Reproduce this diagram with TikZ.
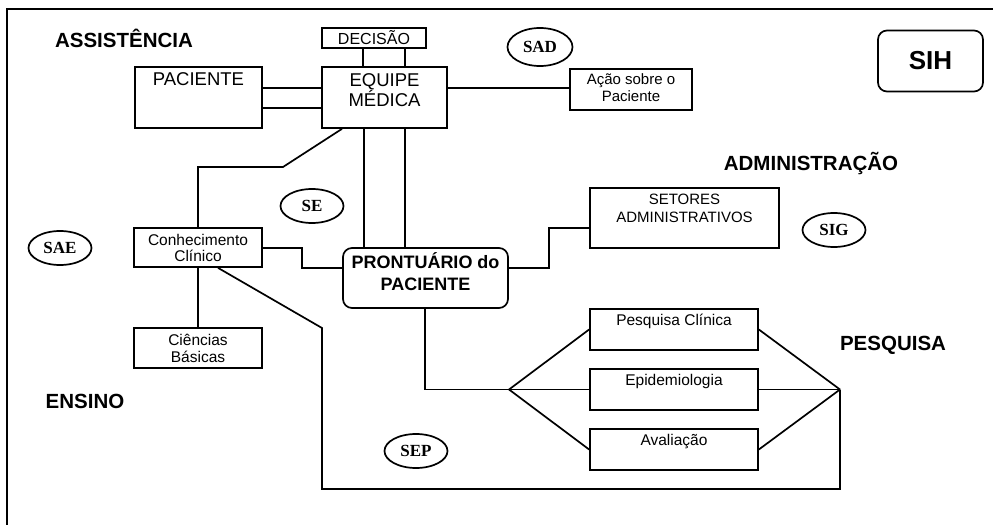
\documentclass[tikz,border=0pt]{standalone}
\usepackage{fontspec}
\setmainfont{Liberation Sans}
\newfontfamily\ellfont{Liberation Serif}
\usetikzlibrary{shapes.geometric}

\begin{document}
\begin{tikzpicture}[x=1pt, y=-1pt, line width=1.7pt,
  box/.style={draw, rectangle, inner sep=0pt},
  rbox/.style={draw, rectangle, rounded corners=9pt, inner sep=0pt},
  ell/.style={draw, ellipse, inner sep=0pt, minimum width=63pt, minimum height=34pt,
    font=\ellfont\bfseries\fontsize{17}{17}\selectfont},
  txt/.style={inner sep=0pt, anchor=base, font=\fontsize{15.5}{16}\selectfont},
  captxt/.style={inner sep=0pt, anchor=base, font=\fontsize{18.5}{20}\selectfont},
  boldtxt/.style={inner sep=0pt, anchor=base, font=\bfseries\fontsize{18}{20}\selectfont},
  area/.style={inner sep=0pt, anchor=base, font=\bfseries\fontsize{20.5}{22}\selectfont}]
\useasboundingbox (0,0) rectangle (993,525);

% outer frame (top and left edges)
\draw (993,9) -- (7,9) -- (7,525);

% area titles
\node[area] (assist) at (124,47) {ASSISTÊNCIA};
\node[area] (admin)  at (811,170) {ADMINISTRAÇÃO};
\node[area] (pesq)   at (893,350) {PESQUISA};
\node[area] (ensino) at (85,408) {ENSINO};

% subsystem ellipses
\node[ell, minimum width=65pt, minimum height=38pt] (sad) at (540,47) {SAD};
\node[ell] (se)  at (312,206) {SE};
\node[ell] (sae) at (60,248)  {SAE};
\node[ell] (sig) at (834,230) {SIG};
\node[ell] (sep) at (416,451) {SEP};

% SIH label box
\node[rbox, minimum width=105pt, minimum height=61pt] (sih) at (930.5,61) {};
\node[inner sep=0pt, anchor=base, font=\bfseries\fontsize{26}{28}\selectfont] (sih-t) at (930.5,69) {SIH};

% care boxes
\node[box, minimum width=104pt, minimum height=20pt] (dec) at (374,38) {};
\node[txt, font=\fontsize{16}{16}\selectfont] (dec-t) at (374,44) {DECISÃO};

\node[box, minimum width=127pt, minimum height=61pt] (pac) at (198.5,97.5) {};
\node[captxt] (pac-t) at (198.5,85) {PACIENTE};

\node[box, minimum width=125pt, minimum height=61pt] (eq) at (384.5,97.5) {};
\node[captxt] (eq-t1) at (384.5,86) {EQUIPE};
\node[captxt] (eq-t2) at (384.5,106) {MÉDICA};

\node[box, minimum width=122pt, minimum height=41pt] (acao) at (631,89.5) {};
\node[txt, font=\fontsize{15}{16}\selectfont] (acao-t1) at (631,84) {Ação sobre o};
\node[txt, font=\fontsize{15}{16}\selectfont] (acao-t2) at (631,101) {Paciente};

% teaching boxes
\node[box, minimum width=128pt, minimum height=39pt] (con) at (198,247.5) {};
\node[txt] (con-t1) at (198,245) {Conhecimento};
\node[txt] (con-t2) at (198,261) {Clínico};

\node[box, minimum width=128pt, minimum height=40pt] (cie) at (198,348) {};
\node[txt] (cie-t1) at (198,345) {Ciências};
\node[txt] (cie-t2) at (198,362) {Básicas};

% patient record
\node[rbox, minimum width=165pt, minimum height=60pt] (pront) at (425.5,278) {};
\node[boldtxt] (pront-t1) at (425.5,268) {PRONTUÁRIO do};
\node[boldtxt] (pront-t2) at (425.5,290) {PACIENTE};

% administration
\node[box, minimum width=189pt, minimum height=60pt] (set) at (684.5,218) {};
\node[txt, font=\fontsize{15}{16}\selectfont] (set-t1) at (684.5,204) {SETORES};
\node[txt, font=\fontsize{15}{16}\selectfont] (set-t2) at (684.5,222) {ADMINISTRATIVOS};

% research boxes
\node[box, minimum width=168pt, minimum height=41pt] (pc) at (674,329.5) {};
\node[txt] (pc-t) at (674,325) {Pesquisa Clínica};
\node[box, minimum width=168pt, minimum height=41pt] (epi) at (674,389.5) {};
\node[txt] (epi-t) at (674,385) {Epidemiologia};
\node[box, minimum width=168pt, minimum height=41pt] (aval) at (674,449.5) {};
\node[txt] (aval-t) at (674,445) {Avaliação};

% branching points of the research fan
\coordinate (lapex) at (509,389.5);
\coordinate (rapex) at (840,389.5);

% connectors
\draw (pac.east |- 0,88)  -- (eq.west |- 0,88);
\draw (pac.east |- 0,108) -- (eq.west |- 0,108);
\draw (dec.south -| 363,0) -- (eq.north -| 363,0);
\draw (dec.south -| 405,0) -- (eq.north -| 405,0);
\draw (eq.east |- 0,88) -- (acao.west |- 0,88);
\draw (eq.south -| 364,0) -- (pront.north -| 364,0);
\draw (eq.south -| 405,0) -- (pront.north -| 405,0);
\draw (eq.south -| 342,0) -- (283,167) -- (198,167) -- (con.north -| 198,0);
\draw (con.east |- 0,248) -- (302,248) -- (302,268) -- (pront.west |- 0,268);
\draw (pront.east |- 0,268) -- (549,268) -- (549,228) -- (set.west |- 0,228);
\draw (con.south -| 198,0) -- (cie.north -| 198,0);
\draw (con.south -| 218,0) -- (322,328) -- (322,489) -- (840,489) -- (rapex);
\draw (pront.south -| 425,0) -- (425,389.5) -- (lapex);
\draw (lapex) -- (pc.west);
\draw (lapex) -- (epi.west);
\draw (lapex) -- (aval.west);
\draw (pc.east) -- (rapex);
\draw (epi.east) -- (rapex);
\draw (aval.east) -- (rapex);
\end{tikzpicture}
\end{document}
